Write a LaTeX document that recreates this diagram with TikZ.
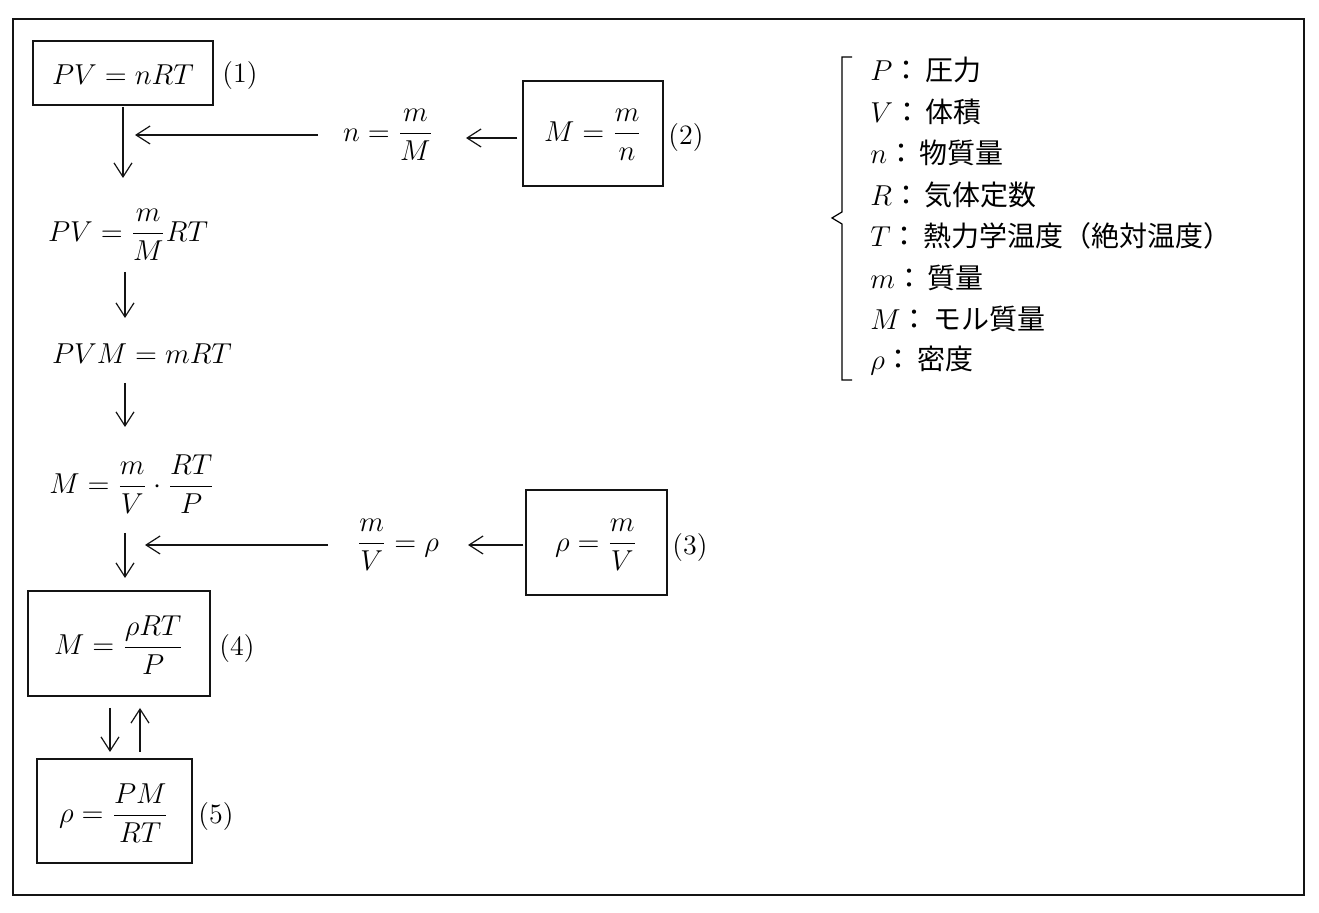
\documentclass[tikz,border=0pt]{standalone}
\usepackage{fontspec}
\usepackage{amsmath}
\usetikzlibrary{arrows.meta}
\newfontfamily\jpfont{Noto Sans CJK JP}
\definecolor{inkblack}{RGB}{20, 20, 20}
\tikzset{
  boxnode/.style={draw=inkblack, line width=0.6pt, inner sep=0pt},
  eqtxt/.style={font=\fontsize{14}{16}\selectfont, inner sep=0pt},
  numtxt/.style={font=\fontsize{14}{16}\selectfont, inner sep=0pt},
  flow/.style={-{Straight Barb[length=7pt,width=9pt]}, line width=0.6pt, inkblack},
  legtxt/.style={font=\fontsize{14}{16}\selectfont\jpfont, anchor=west, inner sep=0pt}
}
\begin{document}
\begin{tikzpicture}[x=0.5pt, y=-0.5pt]
    \useasboundingbox (0,0) rectangle (1319,913);
    \draw[line width=0.6pt, inkblack] (13,19) rectangle (1304,895);

    % boxed formulas
    \node[boxnode, minimum width=90pt, minimum height=32pt] (boxone) at (123,73) {};
    \node[eqtxt] (eqone) at (123,75) {$PV = nRT$};
    \node[numtxt] (tagone) at (240,76) {(1)};

    \node[boxnode, minimum width=70pt, minimum height=52.5pt] (boxtwo) at (593,133.5) {};
    \node[eqtxt] (eqtwo) at (593,135) {$M = \dfrac{m}{n}$};
    \node[numtxt] (tagtwo) at (686,138) {(2)};

    \node[boxnode, minimum width=70.5pt, minimum height=52.5pt] (boxthree) at (596.5,542.5) {};
    \node[eqtxt] (eqthree) at (596,545) {$\rho = \dfrac{m}{V}$};
    \node[numtxt] (tagthree) at (690,548) {(3)};

    \node[boxnode, minimum width=91pt, minimum height=52.5pt] (boxfour) at (119,643.5) {};
    \node[eqtxt] (eqfour) at (119,645) {$M = \dfrac{\rho RT}{P}$};
    \node[numtxt] (tagfour) at (237,649) {(4)};

    \node[boxnode, minimum width=77.5pt, minimum height=52pt] (boxfive) at (114.5,811) {};
    \node[eqtxt] (eqfive) at (114,813) {$\rho = \dfrac{PM}{RT}$};
    \node[numtxt] (tagfive) at (216,817) {(5)};

    % intermediate steps
    \node[eqtxt] (subn) at (388,135) {$n = \dfrac{m}{M}$};
    \node[eqtxt] (steptwo) at (128,235) {$PV = \dfrac{m}{M}RT$};
    \node[eqtxt] (stepthree) at (142,354) {$PVM = mRT$};
    \node[eqtxt] (stepfour) at (132,484) {$M = \dfrac{m}{V}\cdot\dfrac{RT}{P}$};
    \node[eqtxt] (subrho) at (398,545) {$\dfrac{m}{V} = \rho$};

    % arrows
    \draw[flow] (123,107) -- (123,178);
    \draw[flow] (318,135) -- (135,135);
    \draw[flow] (boxtwo.west |- 0,138) ++(-5,0) -- (466,138);
    \draw[flow] (125,272) -- (125,318);
    \draw[flow] (125,383) -- (125,427);
    \draw[flow] (125,533) -- (125,578);
    \draw[flow] (328,545) -- (145,545);
    \draw[flow] (boxthree.west |- 0,545) ++(-2,0) -- (468,545);
    \draw[flow] (110,708) -- (110,752);
    \draw[flow] (140,752) -- (140,708);

    % legend
    \draw[line width=0.6pt] (852,57) -- (842,57) -- (842,212) -- (832,218) -- (842,224) -- (842,380) -- (852,380);
    \foreach \sym/\word [count=\i from 0] in {P/圧力, V/体積, n/物質量, R/気体定数, T/熱力学温度（絶対温度）, m/質量, M/モル質量, \rho/密度}
        \node[legtxt] (leg\i) at (870,70+41.5*\i) {$\sym$：\,\word};
\end{tikzpicture}
\end{document}
